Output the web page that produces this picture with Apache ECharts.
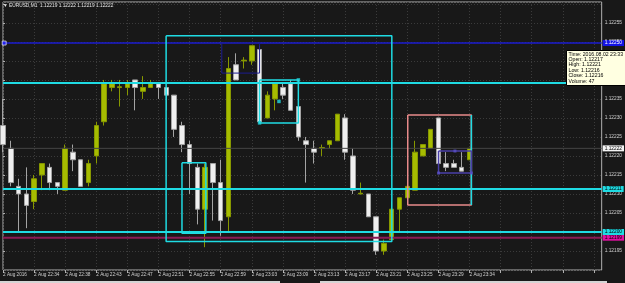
<!DOCTYPE html>
<html>
<head>
<meta charset="utf-8">
<script src="https://cdn.jsdelivr.net/npm/echarts@6/dist/echarts.min.js"></script>
<style>
html,body{margin:0;padding:0;background:#181818;}
#container{width:625px;height:283px;}
</style>
</head>
<body>
<div id="container"></div>
<script>
// EURUSD M1, 2 Aug 2016, one bar per minute (some minutes missing)
var times=['22:30','22:31','22:32','22:33','22:34','22:35','22:36','22:37','22:38','22:39',
    '22:40','22:42','22:43','22:44','22:45','22:46','22:47','22:48','22:49','22:50',
    '22:51','22:52','22:53','22:54','22:55','22:56','22:57','22:58','22:59','23:00',
    '23:01','23:02','23:03','23:04','23:06','23:08','23:09','23:10','23:11','23:12',
    '23:13','23:14','23:15','23:16','23:17','23:18','23:19','23:20','23:21','23:22',
    '23:23','23:24','23:25','23:26','23:27','23:28','23:29','23:31','23:32','23:33','23:34'];
var opens=[1.12228,1.12222,1.12212,1.12210,1.12208,1.12215,1.12217,1.12213,1.12211,1.12221,
    1.12219,1.12213,1.12220,1.12229,1.12238,1.12238,1.12238,1.12240,1.12237,1.12238,
    1.12239,1.12238,1.12236,1.12228,1.12223,1.12217,1.12206,1.12218,1.12213,1.12204,
    1.12244,1.12245,1.12245,1.12248,1.12230,1.12235,1.12238,1.12239,1.12233,1.12224,
    1.12222,1.12222,1.12223,1.12224,1.12230,1.12220,1.12210,1.12210,1.12204,1.12195,
    1.12198,1.12206,1.12209,1.12211,1.12220,1.12222,1.12230,1.12218,1.12218,1.12217,1.12219];
var closes=[1.12223,1.12213,1.12210,1.12207,1.12214,1.12218,1.12213,1.12212,1.12222,1.12219,
    1.12212,1.12218,1.12228,1.12239,1.12239,1.122382,1.12239,1.12238,1.12238,1.12239,
    1.12238,1.12236,1.12227,1.12223,1.12218,1.12206,1.12217,1.12213,1.12203,1.12243,
    1.12240,1.122452,1.12249,1.12229,1.12236,1.12239,1.12236,1.12232,1.12225,1.12223,
    1.12221,1.122222,1.12224,1.12231,1.12221,1.12211,1.122102,1.12204,1.12195,1.12197,
    1.12206,1.12209,1.12212,1.12221,1.12223,1.12227,1.12218,1.12217,1.12217,1.12216,1.12222];
var lows=[1.12221,1.12212,1.12200,1.12201,1.12206,1.12211,1.12211,1.12210,1.12211,1.12216,
    1.12212,1.12212,1.12218,1.12228,1.12237,1.12233,1.12236,1.12232,1.12235,1.12238,
    1.12235,1.12232,1.12225,1.12221,1.12210,1.12202,1.12196,1.12203,1.12199,1.12200,
    1.12240,1.12243,1.12244,1.12229,1.12230,1.12232,1.12235,1.12232,1.12224,1.12213,
    1.12218,1.12220,1.12222,1.12224,1.12219,1.12210,1.12210,1.12204,1.12194,1.12194,
    1.12198,1.12200,1.12209,1.12211,1.12220,1.12222,1.12218,1.12216,1.12217,1.12216,1.12219];
var highs=[1.12235,1.12224,1.12214,1.12217,1.12215,1.12218,1.12218,1.12213,1.12223,1.12223,
    1.12219,1.12219,1.12229,1.12240,1.12240,1.12240,1.12240,1.12240,1.12241,1.12240,
    1.12239,1.12238,1.12236,1.12229,1.12224,1.12218,1.12218,1.12218,1.12219,1.12246,
    1.12247,1.12246,1.12249,1.12249,1.12237,1.12239,1.12239,1.12240,1.12233,1.12225,
    1.12224,1.12223,1.12224,1.12231,1.12231,1.12222,1.12213,1.12210,1.12204,1.12198,
    1.12208,1.12209,1.12212,1.12224,1.12223,1.12227,1.12230,1.12221,1.12219,1.12221,1.12222];
var hoverBar=59, hoverVolume=47;
var shiftBars=17; // empty space right of the last bar

// horizontal levels drawn on the chart
var lvlBlue=1.122497, lvlCyanTop=1.122392, lvlCyanMid=1.122113, lvlCyanLow=1.122000, lvlMagenta=1.121985;
// rectangles [barFrom, priceTop, barTo, priceBottom]
var boxBig=[20.98,1.122516,50.01,1.121975];
var boxLeft=[23.02,1.122182,26.09,1.121997];
var boxNavy=[28.14,1.122497,33.0,1.122418];
var boxMid=[33.0,1.122400,37.99,1.122287];
var boxRight=[52.06,1.122308,60.24,1.122071];
var boxInner=[56.02,1.122213,60.24,1.122155];

var FONT='Liberation Sans';
var CYAN='#1fdbe3';

var cats=times.slice();
for(var i=1;i<=shiftBars;i++){cats.push('+'+i);}
var kdata=[];
for(var i=0;i<times.length;i++){kdata.push([opens[i],closes[i],lows[i],highs[i]]);}
var last=times.length-1;
var xEnd=cats.length-1;

function box(b,color,w){
    return {
        type:'line',xAxisIndex:1,silent:true,symbol:'none',animation:false,z:5,
        lineStyle:{color:color,width:w||1.5},
        data:[[b[0],b[1]],[b[2],b[1]],[b[2],b[3]],[b[0],b[3]],[b[0],b[1]]]
    };
}
function seg(x0,y0,x1,y1,color,w){
    return {
        type:'line',xAxisIndex:1,silent:true,symbol:'none',animation:false,z:5,
        lineStyle:{color:color,width:w},data:[[x0,y0],[x1,y1]]
    };
}
function lvl(v,color,w,bg,fg){
    return {
        type:'line',xAxisIndex:1,silent:true,symbol:'none',animation:false,z:4,
        lineStyle:{color:color,width:w},
        data:[[0,v],[xEnd,v]],
        endLabel:{show:true,distance:1,formatter:v.toFixed(5),
            backgroundColor:bg,color:fg,fontSize:4.8,fontFamily:FONT,padding:[1,2,0,2]}
    };
}

var dom=document.getElementById('container');
var myChart=echarts.init(dom,null,{renderer:'canvas'});
var option={
    backgroundColor:'#181818',
    animation:false,
    grid:{left:2,right:21,top:2,bottom:13,show:true,borderColor:'#b0b0b0',borderWidth:1,backgroundColor:'transparent'},
    xAxis:[{
        type:'category',data:cats,boundaryGap:false,
        axisLine:{show:false},
        axisTick:{show:true,interval:3,length:3,lineStyle:{color:'#b0b0b0'}},
        axisLabel:{interval:3,align:'left',margin:2,fontSize:4.7,fontFamily:FONT,color:'#d0d0d0',
            formatter:function(v,idx){
                if(idx>last) return '';
                return idx===0?'2 Aug 2016':'2 Aug '+v;
            }},
        splitLine:{show:true,interval:3,lineStyle:{color:'#3b3b3b',type:[1,2],width:1}}
    },{
        type:'value',min:0,max:xEnd,show:false
    }],
    yAxis:{
        type:'value',position:'right',min:1.12190,max:1.122605,interval:0.00005,scale:true,
        axisLine:{show:false},
        axisTick:{show:true,length:2,lineStyle:{color:'#b0b0b0'}},
        axisLabel:{margin:3,fontSize:4.8,fontFamily:FONT,color:'#d0d0d0',showMinLabel:false,showMaxLabel:false,
            formatter:function(v){return v>1.122575?'':v.toFixed(5);}},
        splitLine:{show:true,lineStyle:{color:'#3b3b3b',type:[1,2],width:1}}
    },
    series:[{
        type:'candlestick',
        data:kdata,
        barWidth:5,
        z:3,
        itemStyle:{color:'#a6bc00',color0:'#efefef',borderColor:'#879800',borderColor0:'#a4a4a4',borderWidth:1}
    },
    lvl(closes[last],'#454545',1,'#f4f4f4','#000'),
    lvl(lvlBlue,'#1b1bd0',1.5,'#1414e6','#ffffff'),
    lvl(lvlCyanTop,CYAN,2,CYAN,'#000'),
    lvl(lvlMagenta,'#8a1a55',2,'#e010a0','#000'),
    lvl(lvlCyanMid,CYAN,2,CYAN,'#000'),
    lvl(lvlCyanLow,CYAN,2,CYAN,'#000'),
    box(boxBig,CYAN,1.5),
    box(boxLeft,CYAN,1.5),
    box(boxNavy,'#1c1c90',1),
    box(boxMid,CYAN,1.5),
    box(boxRight,'#e88a8a',1.5),
    seg(boxRight[2],boxRight[1],boxRight[2],boxRight[3],CYAN,1.5),
    box(boxInner,'#4a3fa8',1.5),
    {
        type:'scatter',xAxisIndex:1,silent:true,animation:false,z:6,symbol:'rect',symbolSize:3.5,
        itemStyle:{color:CYAN},
        data:[[boxMid[2],boxMid[1]],[boxMid[0],boxMid[3]],[(boxMid[0]+boxMid[2])/2,(boxMid[1]+boxMid[3])/2]]
    },{
        type:'scatter',xAxisIndex:1,silent:true,animation:false,z:6,symbol:'rect',symbolSize:3,
        itemStyle:{color:'#5a50c8'},
        data:[[boxInner[0],boxInner[3]],[boxInner[2],boxInner[3]],[(boxInner[0]+boxInner[2])/2,boxInner[1]]]
    },{
        type:'scatter',xAxisIndex:1,silent:true,animation:false,z:6,symbol:'rect',symbolSize:4,
        itemStyle:{color:'#2020ff',borderColor:'#ffffff',borderWidth:0.8},
        data:[[0.15,lvlBlue]]
    }],
    graphic:[
        {type:'text',left:3,top:3.5,z:100,style:{
            text:'\u25BC EURUSD,M1  '+opens[last].toFixed(5)+' '+highs[last].toFixed(5)+' '+lows[last].toFixed(5)+' '+closes[last].toFixed(5),
            fill:'#e6e6e6',font:'4.8px "'+FONT+'"'}},
        {type:'rect',z:100,shape:{x:566.5,y:50.5,width:70,height:35},style:{fill:'#ffffe1',stroke:'#000',lineWidth:1}},
        {type:'text',x:568.5,y:51.5,z:101,style:{
            text:['Time: 2016.08.02 '+times[hoverBar],
                'Open: '+opens[hoverBar].toFixed(5),
                'High: '+highs[hoverBar].toFixed(5),
                'Low: '+lows[hoverBar].toFixed(5),
                'Close: '+closes[hoverBar].toFixed(5),
                'Volume: '+hoverVolume].join('\n'),
            fill:'#000',font:'5.2px "'+FONT+'"',lineHeight:5.4}},
        {type:'rect',z:100,shape:{x:0,y:281,width:280,height:2},style:{fill:'#d4d4d4'}},
        {type:'rect',z:100,shape:{x:320,y:281,width:287,height:2},style:{fill:'#d4d4d4'}}
    ]
};
myChart.setOption(option,true);
</script>
</body>
</html>
